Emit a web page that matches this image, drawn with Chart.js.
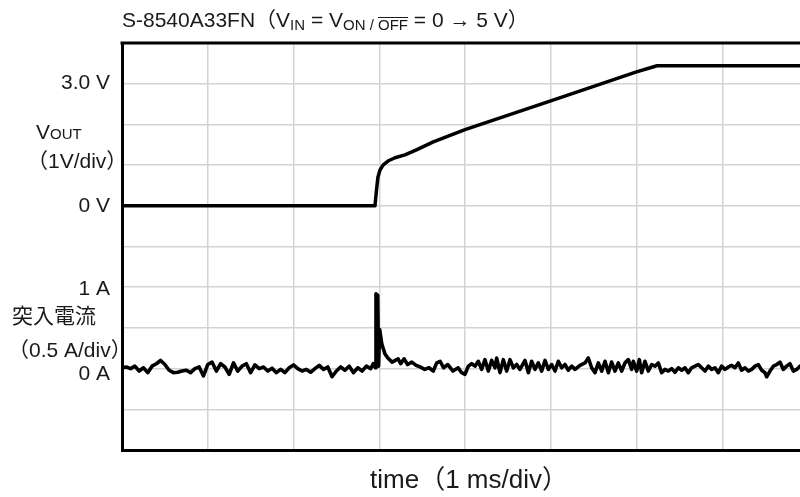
<!DOCTYPE html>
<html>
<head>
<meta charset="utf-8">
<script src="https://cdn.jsdelivr.net/npm/chart.js@4.4.1/dist/chart.umd.min.js"></script>
<style>
html,body{margin:0;padding:0;overflow:hidden;background:#fff;}
canvas{display:block;}
</style>
</head>
<body>
<canvas id="c" width="820" height="497"></canvas>
<script>
// ---- data (time in ms, voltage in V, current in A) ----
const voltageTime  = [0, 2.95, 2.968, 2.985, 3.009, 3.044, 3.102, 3.184, 3.30, 3.44, 3.63, 4.0, 5.0, 6.0, 6.24, 8.0];
const voltageValue = [0, 0,    0.39,  0.71,  0.88,  1.0,   1.1,   1.18,  1.25, 1.38, 1.57, 1.87, 2.58, 3.29, 3.44, 3.44];

const currentTime = [
  0.00,0.05,0.10,0.15,0.20,0.25,0.30,0.35,0.40,0.45,0.50,0.55,0.60,0.65,0.70,0.75,0.80,0.85,0.90,0.95,
  1.00,1.05,1.10,1.15,1.20,1.25,1.30,1.35,1.40,1.45,1.50,1.55,1.60,1.65,1.70,1.75,1.80,1.85,1.90,1.95,
  2.00,2.05,2.10,2.15,2.20,2.25,2.30,2.35,2.40,2.45,2.50,2.55,2.60,2.65,2.70,2.75,2.80,2.85,2.90,2.93,
  2.955,2.962,2.982,2.992,3.005,3.03,3.067,3.10,3.15,3.22,3.25,3.29,3.33,3.38,3.43,3.48,3.53,3.58,3.63,
  3.67,3.71,3.75,3.80,3.86,3.92,3.96,
  4.000,4.039,4.078,4.117,4.155,4.194,4.233,4.272,4.311,4.350,4.369,4.408,4.447,4.486,4.525,4.564,4.603,4.641,
  4.700,4.739,4.777,4.816,4.855,4.894,4.933,4.972,5.011,5.050,5.088,5.127,5.166,5.205,5.244,5.283,5.341,5.399,
  5.438,5.477,5.516,5.555,5.594,5.633,5.672,5.710,5.749,5.788,5.827,5.866,5.905,5.944,
  5.963,6.002,6.033,6.060,6.099,6.138,6.177,6.216,6.254,6.293,6.332,6.371,6.410,6.449,6.488,6.527,6.565,6.604,
  6.643,6.682,6.721,6.760,6.799,6.837,6.876,6.915,6.954,6.993,7.032,7.071,7.110,7.148,7.187,7.226,7.265,7.304,
  7.343,7.382,7.421,7.459,7.498,7.518,7.557,7.596,7.635,7.673,7.712,7.751,7.790,7.829,7.868,7.906,7.95,8.0
];
const currentValue = [
  0.01,0.02,0.00,0.03,-0.03,0.01,-0.05,0.03,0.06,0.10,0.05,-0.02,-0.05,-0.045,-0.03,-0.02,-0.05,0.00,0.02,-0.09,
  0.05,0.08,-0.03,0.06,0.02,-0.07,0.07,-0.03,0.03,0.06,-0.05,0.045,0.00,0.02,-0.03,0.005,-0.05,-0.01,-0.05,0.01,
  0.045,0.00,-0.03,-0.01,-0.045,0.00,0.04,-0.01,0.02,-0.10,-0.03,0.02,-0.02,0.03,-0.05,0.01,-0.03,0.03,0.00,0.06,
  0.01,0.92,0.90,0.03,0.48,0.30,0.18,0.13,0.08,0.12,0.06,0.12,0.05,0.08,0.04,0.02,-0.01,0.01,-0.03,
  0.07,0.09,0.01,0.05,-0.03,0.01,-0.05,
  -0.07,0.03,0.06,0.03,0.09,-0.01,0.11,-0.03,0.10,0.01,0.13,-0.05,0.11,-0.03,0.11,0.01,0.05,-0.01,
  0.10,-0.05,0.09,-0.01,0.07,-0.03,0.10,-0.01,0.05,-0.03,0.09,0.01,0.05,-0.02,0.03,-0.01,0.04,0.07,
  0.13,0.01,-0.05,0.07,-0.03,0.09,-0.05,0.08,-0.03,0.07,-0.03,0.07,0.11,-0.01,
  0.09,-0.03,0.11,-0.05,0.09,-0.03,0.05,0.03,0.07,-0.05,-0.01,-0.03,0.00,-0.045,0.01,-0.02,0.01,-0.05,
  0.01,0.03,0.05,0.01,-0.03,0.03,-0.01,0.01,-0.05,0.03,-0.01,0.02,0.04,0.01,0.07,-0.02,0.01,-0.03,
  -0.01,0.03,0.05,-0.02,-0.05,-0.10,-0.03,0.03,0.05,0.08,-0.01,0.03,0.06,-0.03,-0.01,0.03,0.02,0.00
];

// axis ranges (divisions: 8 horizontal, 10 vertical)
const timeRange = [0, 8];
const voltRange = [-6, 4];
const ampRange  = [-1, 4];

const titleParts = [
  {t:'S-8540A33FN', s:'main'}, {t:'（', s:'cjk'}, {t:'V', s:'main'}, {t:'IN', s:'sub'},
  {t:' = V', s:'main'}, {t:'ON / ', s:'sub'}, {t:'OFF', s:'subo'}, {t:' = 0 → 5 V', s:'main'}, {t:'）', s:'cjk'}
];
const xTitle = 'time（1 ms/div）';

const labels = [
  {text:'3.0 V', axis:'yV', v:3, x:110, align:'right'},
  {text:'（1V/div）', axis:'yV', v:1.06, x:27, align:'left'},
  {text:'0 V', axis:'yV', v:-0.02, x:110, align:'right'},
  {text:'1 A', axis:'yA', v:0.97, x:110, align:'right'},
  {text:'突入電流', axis:'yA', v:0.63, x:12, align:'left'},
  {text:'（0.5 A/div）', axis:'yA', v:0.21, x:8, align:'left'},
  {text:'0 A', axis:'yA', v:-0.07, x:110, align:'right'}
];

const FONT = '"Liberation Sans", Arial, "Noto Sans CJK JP", sans-serif';
const TXT = '#1a1a1a';

const textPlugin = {
  id: 'textPlugin',
  afterDraw(chart) {
    const ctx = chart.ctx, a = chart.chartArea;
    ctx.save();
    // top border
    ctx.strokeStyle = '#000'; ctx.lineWidth = 3;
    ctx.beginPath(); ctx.moveTo(a.left - 1.5, a.top); ctx.lineTo(a.right, a.top); ctx.stroke();
    ctx.fillStyle = TXT;
    ctx.textBaseline = 'middle';
    for (const L of labels) {
      const y = chart.scales[L.axis].getPixelForValue(L.v);
      ctx.font = '21px ' + FONT;
      ctx.textAlign = L.align;
      ctx.fillText(L.text, L.x, y);
    }
    // V_OUT
    {
      const y = chart.scales.yV.getPixelForValue(1.82) + 7;
      ctx.textBaseline = 'alphabetic'; ctx.textAlign = 'left';
      ctx.font = '21px ' + FONT;
      ctx.fillText('V', 36, y);
      const w = ctx.measureText('V').width;
      ctx.font = '15px ' + FONT;
      ctx.fillText('OUT', 36 + w, y);
    }
    // title
    {
      let x = 122; const base = 27;
      ctx.textBaseline = 'alphabetic'; ctx.textAlign = 'left';
      for (const p of titleParts) {
        let f = '21px ' + FONT, dy = 0;
        if (p.s === 'cjk') f = '21px "Noto Sans CJK JP", sans-serif';
        if (p.s === 'sub' || p.s === 'subo') { f = '15px ' + FONT; dy = 3; }
        ctx.font = f;
        ctx.fillText(p.t, x, base + dy);
        const w = ctx.measureText(p.t).width;
        if (p.s === 'subo') {
          ctx.lineWidth = 1; ctx.strokeStyle = TXT;
          ctx.beginPath(); ctx.moveTo(x, base + dy - 12.5); ctx.lineTo(x + w, base + dy - 12.5); ctx.stroke();
        }
        x += w;
      }
    }
    // x title
    ctx.font = '26px ' + FONT; ctx.textAlign = 'center'; ctx.textBaseline = 'middle';
    ctx.fillText(xTitle, 469, 481);
    ctx.restore();
  }
};

new Chart(document.getElementById('c'), {
  type: 'line',
  data: {
    datasets: [
      {
        data: voltageTime.map((t, i) => ({x: t, y: voltageValue[i]})),
        yAxisID: 'yV', borderColor: '#000', borderWidth: 3.5, pointRadius: 0,
        tension: 0, borderJoinStyle: 'round', borderCapStyle: 'round'
      },
      {
        data: currentTime.map((t, i) => ({x: t, y: currentValue[i]})),
        yAxisID: 'yA', borderColor: '#000', borderWidth: 3.6, pointRadius: 0,
        tension: 0, borderJoinStyle: 'round', borderCapStyle: 'round'
      }
    ]
  },
  options: {
    responsive: false, animation: false, devicePixelRatio: 1,
    layout: {padding: {left: 122, top: 43, right: 12, bottom: 47}},
    plugins: {legend: {display: false}, tooltip: {enabled: false}, title: {display: false}},
    scales: {
      x: {
        type: 'linear', min: timeRange[0], max: timeRange[1],
        ticks: {display: false, stepSize: 1},
        grid: {color: '#d3d3d3', lineWidth: 1.5, drawTicks: false},
        border: {display: true, color: '#000', width: 3}
      },
      yV: {
        type: 'linear', position: 'left', min: voltRange[0], max: voltRange[1],
        ticks: {display: false, stepSize: 1},
        grid: {color: '#d3d3d3', lineWidth: 1.5, drawTicks: false},
        border: {display: true, color: '#000', width: 3}
      },
      yA: {
        type: 'linear', display: false, min: ampRange[0], max: ampRange[1]
      }
    }
  },
  plugins: [textPlugin]
});
</script>
</body>
</html>
